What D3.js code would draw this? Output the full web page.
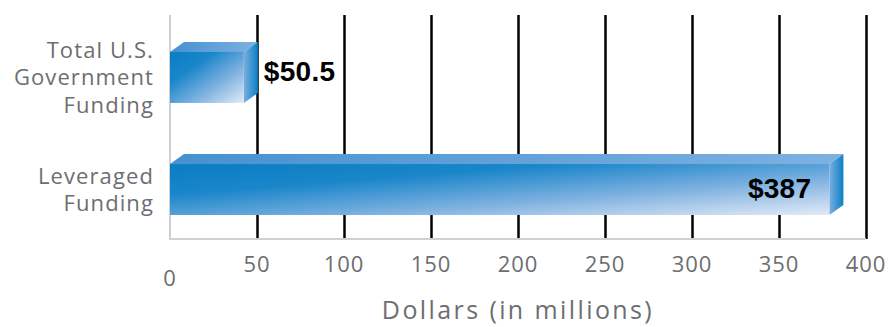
<!DOCTYPE html>
<html>
<head>
<meta charset="utf-8">
<script src="https://cdn.jsdelivr.net/npm/d3@7"></script>
<style>
  body { margin: 0; background: #fff; }
  svg { display: block; }
</style>
</head>
<body>
<div id="chart"></div>
<script>
// data
var categories = ["Total U.S. Government Funding", "Leveraged Funding"];
var categoryLines = [["Total U.S.", "Government", "Funding"], ["Leveraged", "Funding"]];
var values = [50.5, 387];
var valueLabels = ["$50.5", "$387"];
var tickValues = [0, 50, 100, 150, 200, 250, 300, 350, 400];
var axisTitle = "Dollars (in millions)";

var svg = d3.select("#chart")
    .append("svg")
    .attr("width", 888)
    .attr("height", 327),
    margin = { top: 15, right: 22, bottom: 88, left: 170 },
    width = +svg.attr("width") - margin.left - margin.right,
    height = +svg.attr("height") - margin.top - margin.bottom;

var grey = "#6d6e71";
var depthX = 14, depthY = 10;

var g = svg.append("g")
    .attr("transform", "translate(" + margin.left + "," + margin.top + ")");

var x = d3.scaleLinear()
    .domain([0, 400])
    .range([0, 696]);

var y = d3.scaleBand()
    .domain(categories)
    .range([0, 237])
    .paddingInner(0.545)
    .paddingOuter(0.33);

// gradients
var defs = svg.append("defs");
var front = defs.append("linearGradient").attr("id", "front")
    .attr("x1", 0).attr("y1", 0).attr("x2", 1).attr("y2", 1);
front.append("stop").attr("offset", "0").attr("stop-color", "#0a7dc3");
front.append("stop").attr("offset", "0.3").attr("stop-color", "#1a86ca");
front.append("stop").attr("offset", "0.65").attr("stop-color", "#80b2e0");
front.append("stop").attr("offset", "1").attr("stop-color", "#e2eaf7");

var top_ = defs.append("linearGradient").attr("id", "topface")
    .attr("x1", 0).attr("y1", 0).attr("x2", 1).attr("y2", 0);
top_.append("stop").attr("offset", "0").attr("stop-color", "#4591d1");
top_.append("stop").attr("offset", "1").attr("stop-color", "#7eb1e0");

var side = defs.append("linearGradient").attr("id", "side")
    .attr("x1", 0).attr("y1", 0).attr("x2", 1).attr("y2", 0);
side.append("stop").attr("offset", "0").attr("stop-color", "#7aaee0");
side.append("stop").attr("offset", "1").attr("stop-color", "#0a80c6");

// grid lines
g.append("g")
    .attr("class", "grid")
    .call(d3.axisBottom(x)
        .tickValues(tickValues.slice(1))
        .tickSize(0)
        .tickFormat(""))
    .call(function (s) { s.select(".domain").remove(); })
    .selectAll(".tick line")
    .attr("y1", 0)
    .attr("y2", 224)
    .attr("stroke", "#000")
    .attr("stroke-width", 2.5);

// left and bottom axis lines
g.append("line")
    .attr("x1", x(0)).attr("x2", x(0))
    .attr("y1", 0).attr("y2", 225)
    .attr("stroke", "#d0d0d0").attr("stroke-width", 2);
g.append("line")
    .attr("x1", x(0)).attr("x2", x(400))
    .attr("y1", 224).attr("y2", 224)
    .attr("stroke", "#d0d0d0").attr("stroke-width", 2);

// 3D bars
var bars = g.selectAll(".bar")
    .data(values)
    .enter().append("g")
    .attr("class", "bar");

bars.append("path")
    .attr("fill", "url(#topface)")
    .attr("d", function (d, i) {
        var y0 = y(categories[i]), x1 = x(d) - depthX;
        return "M0," + y0 + "L" + depthX + "," + (y0 - depthY) + "L" + x(d) + "," + (y0 - depthY) +
            "L" + x1 + "," + y0 + "Z";
    });

bars.append("path")
    .attr("fill", "url(#side)")
    .attr("d", function (d, i) {
        var y0 = y(categories[i]), y1 = y0 + y.bandwidth(), x1 = x(d) - depthX;
        return "M" + x1 + "," + y0 + "L" + x(d) + "," + (y0 - depthY) + "L" + x(d) + "," + (y1 - depthY) +
            "L" + x1 + "," + y1 + "Z";
    });

bars.append("rect")
    .attr("x", 0)
    .attr("y", function (d, i) { return y(categories[i]); })
    .attr("width", function (d) { return x(d) - depthX; })
    .attr("height", y.bandwidth())
    .attr("fill", "url(#front)");

// value labels: small bar outside, long bar inside
bars.append("text")
    .attr("x", function (d, i) { return i == 0 ? x(d) + 6 : x(d) - depthX - 18; })
    .attr("y", function (d, i) { return y(categories[i]) + y.bandwidth() / 2 + (i == 0 ? 4 : 8); })
    .attr("text-anchor", function (d, i) { return i == 0 ? "start" : "end"; })
    .style("font-family", "'Liberation Sans', Arial, sans-serif")
    .style("font-weight", "bold")
    .style("font-size", "28px")
    .style("letter-spacing", "0.3px")
    .attr("fill", "#000")
    .text(function (d, i) { return valueLabels[i]; });

// category labels
categoryLines.forEach(function (lines, i) {
    var mid = y(categories[i]) + y.bandwidth() / 2;
    var t = g.append("text")
        .attr("text-anchor", "end")
        .style("font-family", "'Open Sans', sans-serif")
        .style("font-size", "22px")
        .style("letter-spacing", "1.1px")
        .attr("fill", grey);
    lines.forEach(function (line, j) {
        t.append("tspan")
            .attr("x", -16)
            .attr("y", mid + 8 + (j - (lines.length - 1) / 2) * 27.5)
            .text(line);
    });
});

// tick labels
g.selectAll(".tickLabel")
    .data(tickValues)
    .enter().append("text")
    .attr("class", "tickLabel")
    .attr("x", function (d) { return x(d); })
    .attr("y", function (d) { return d == 0 ? 271 : 257; })
    .attr("text-anchor", "middle")
    .style("font-family", "'Open Sans', sans-serif")
    .style("font-size", "22px")
    .style("letter-spacing", "1px")
    .attr("fill", grey)
    .text(function (d) { return d; });

// axis title
g.append("text")
    .attr("x", x(200))
    .attr("y", 304)
    .attr("text-anchor", "middle")
    .style("font-family", "'Open Sans', sans-serif")
    .style("font-size", "25px")
    .style("letter-spacing", "2.4px")
    .attr("fill", grey)
    .text(axisTitle);
</script>
</body>
</html>
